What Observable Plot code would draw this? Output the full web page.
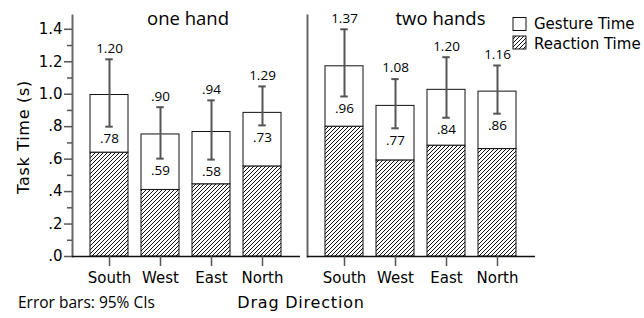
<!DOCTYPE html>
<html><head><meta charset="utf-8">
<script src="https://cdn.jsdelivr.net/npm/d3@7"></script>
<script src="https://cdn.jsdelivr.net/npm/@observablehq/plot@0.6"></script>
<style>
html,body{margin:0;padding:0;background:#fff;}
#chart{width:644px;height:318px;}
</style></head><body><div id="chart"></div>
<script>
// ---- data ----
const hands = ["one hand", "two hands"];
const directions = ["South", "West", "East", "North"];
const seriesNames = ["Gesture Time", "Reaction Time"];
const reactionOne = [0.64, 0.41, 0.445, 0.555];
const gestureOne = [0.355, 0.342, 0.322, 0.33];
const reactionTwo = [0.80, 0.592, 0.683, 0.662];
const gestureTwo = [0.372, 0.336, 0.344, 0.354];
const ciLowOne = [0.80, 0.603, 0.597, 0.808];
const ciHighOne = [1.215, 0.92, 0.962, 1.048];
const ciLowTwo = [0.986, 0.79, 0.855, 0.88];
const ciHighTwo = [1.40, 1.093, 1.228, 1.177];
const upperLabelsOne = ["1.20", ".90", ".94", "1.29"];
const lowerLabelsOne = [".78", ".59", ".58", ".73"];
const upperLabelsTwo = ["1.37", "1.08", "1.20", "1.16"];
const lowerLabelsTwo = [".96", ".77", ".84", ".86"];
const yTicks = [0, 0.2, 0.4, 0.6, 0.8, 1.0, 1.2, 1.4];
const yTickLabels = [".0", ".2", ".4", ".6", ".8", "1.0", "1.2", "1.4"];
const yMinorTicks = [0.1, 0.3, 0.5, 0.7, 0.9, 1.1, 1.3];
const xLabel = "Drag Direction";
const yLabel = "Task Time (s)";
const note = "Error bars: 95% CIs";

// ---- table ----
const groups = [
  [hands[0], reactionOne, gestureOne, ciLowOne, ciHighOne, upperLabelsOne, lowerLabelsOne],
  [hands[1], reactionTwo, gestureTwo, ciLowTwo, ciHighTwo, upperLabelsTwo, lowerLabelsTwo]
];
const rows = [];
for (const [hand, rt, gt, lo, hi, ul, ll] of groups) {
  directions.forEach((dir, i) => rows.push({
    hand, dir, reaction: rt[i], total: rt[i] + gt[i], lo: lo[i], hi: hi[i], up: ul[i], low: ll[i]
  }));
}

const gray = "#555";
const labelFont = "'Open Sans', sans-serif";

const plot = Plot.plot({
  width: 644, height: 318,
  marginLeft: 72, marginRight: 109, marginTop: 15, marginBottom: 62,
  style: {fontFamily: "'DejaVu Sans', sans-serif", fontSize: "15px", background: "white", color: "black", overflow: "visible"},
  fx: {domain: hands, paddingInner: 0.03, paddingOuter: 0, axis: null, label: null},
  x: {domain: directions, paddingInner: 0.25, paddingOuter: 0.343, axis: null, label: null},
  y: {domain: [0, 1.485], axis: null, label: null},
  marks: [
    Plot.barY(rows, {fx: "hand", x: "dir", y1: 0, y2: "reaction", fill: "url(#hatch)", stroke: "#111", strokeWidth: 1}),
    Plot.barY(rows, {fx: "hand", x: "dir", y1: "reaction", y2: "total", fill: "white", stroke: "#111", strokeWidth: 1}),
    Plot.ruleX(rows, {fx: "hand", x: "dir", y1: "lo", y2: "hi", stroke: gray, strokeWidth: 2}),
    Plot.tickY(rows, {fx: "hand", x: "dir", y: "lo", stroke: gray, strokeWidth: 2, insetLeft: 15.25, insetRight: 15.25}),
    Plot.tickY(rows, {fx: "hand", x: "dir", y: "hi", stroke: gray, strokeWidth: 2, insetLeft: 15.25, insetRight: 15.25}),
    Plot.text(rows, {fx: "hand", x: "dir", y: "hi", text: "up", dy: -11, fontFamily: labelFont, fontSize: 13.5}),
    Plot.text(rows, {fx: "hand", x: "dir", y: "lo", text: "low", dy: 12, fontFamily: labelFont, fontSize: 13.5}),
    Plot.frame({anchor: "left", stroke: "#666", strokeWidth: 2}),
    Plot.ruleY([0], {stroke: "#111", strokeWidth: 1.5}),
    Plot.axisX({tickSize: 10, tickPadding: 6, stroke: gray, strokeWidth: 1.5, label: null}),
    Plot.axisY({ticks: yTicks, tickSize: 8, tickPadding: 2, stroke: gray, strokeWidth: 1.5, label: null,
      tickFormat: d => yTickLabels[yTicks.indexOf(d)]}),
    Plot.axisY({ticks: yMinorTicks, tickSize: 5, stroke: gray, strokeWidth: 1.5, label: null, tickFormat: () => ""}),
    Plot.text([hands[0]], {fx: d => d, frameAnchor: "top", lineAnchor: "middle", dy: 3.5, dx: 1.5, text: d => d, fontFamily: labelFont, fontSize: 18.5}),
    Plot.text([hands[1]], {fx: d => d, frameAnchor: "top", lineAnchor: "middle", dy: 3.5, dx: 19, text: d => d, fontFamily: labelFont, fontSize: 18.5})
  ]
});

const svg = d3.select(plot);
const defs = svg.insert("defs", ":first-child");
const pat = defs.append("pattern").attr("id", "hatch").attr("patternUnits", "userSpaceOnUse")
  .attr("width", 4).attr("height", 4);
pat.append("rect").attr("width", 4).attr("height", 4).attr("fill", "white");
pat.append("path").attr("d", "M-1,1 l2,-2 M0,4 l4,-4 M3,5 l2,-2").attr("stroke", "#111").attr("stroke-width", 1);

// axis titles and note
svg.append("text").attr("transform", "translate(29,137) rotate(-90)").attr("text-anchor", "middle")
  .style("font-size", "16px").style("letter-spacing", "0.7px").text(yLabel);
svg.append("text").attr("x", 301).attr("y", 308).attr("text-anchor", "middle")
  .style("font-size", "16px").style("letter-spacing", "0.8px").text(xLabel);
svg.append("text").attr("x", 18).attr("y", 308).attr("text-anchor", "start").attr("font-family", labelFont)
  .style("font-size", "15.5px").text(note);

// legend
const legend = svg.append("g").attr("text-anchor", "start");
seriesNames.forEach((name, i) => {
  legend.append("rect").attr("x", 513).attr("y", 17.5 + i * 18.5).attr("width", 13).attr("height", 13)
    .attr("fill", i === 0 ? "white" : "url(#hatch)").attr("stroke", "#111");
  legend.append("text").attr("x", 534).attr("y", 29 + i * 19.5).style("font-size", "15px").text(name);
});

document.getElementById("chart").appendChild(plot);
</script>
</body></html>
